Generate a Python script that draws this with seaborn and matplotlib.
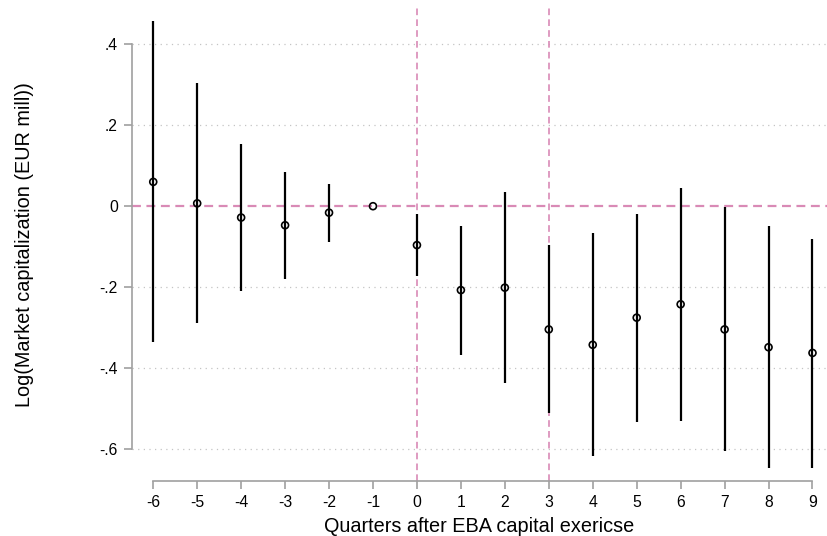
import numpy as np
import pandas as pd
import seaborn as sns
import matplotlib.pyplot as plt

# event-study coefficients
quarters = [-6, -5, -4, -3, -2, -1, 0, 1, 2, 3, 4, 5, 6, 7, 8, 9]
coef = [0.060, 0.007, -0.028, -0.047, -0.016, 0.0, -0.096, -0.207,
        -0.201, -0.304, -0.342, -0.275, -0.242, -0.304, -0.348, -0.362]
ci_low = [-0.335, -0.289, -0.209, -0.179, -0.089, 0.0, -0.172, -0.367,
          -0.437, -0.510, -0.617, -0.532, -0.529, -0.605, -0.647, -0.645]
ci_high = [0.457, 0.303, 0.153, 0.085, 0.055, 0.0, -0.020, -0.048,
           0.034, -0.096, -0.066, -0.020, 0.045, -0.001, -0.049, -0.080]

ytick_vals = [-0.6, -0.4, -0.2, 0, 0.2, 0.4]
ytick_labels = ['-.6', '-.4', '-.2', '0', '.2', '.4']
event_lines = [0, 3]

df = pd.DataFrame({'q': quarters, 'b': coef, 'lo': ci_low, 'hi': ci_high})

sns.set_theme(style="white")
plt.rcParams['font.family'] = ['Liberation Sans', 'DejaVu Sans']
plt.rcParams['text.color'] = 'black'
plt.rcParams['axes.labelcolor'] = 'black'

W, H = 827, 536
fig = plt.figure(figsize=(W / 100, H / 100), dpi=100)
ax = fig.add_axes([131.7 / W, (H - 481) / H, (W - 131.7) / W, (481 - 8) / H])

pink = '#d98ab6'
grey = '#a0a0a0'

# dotted gridlines
for v in ytick_vals:
    if v != 0:
        ax.axhline(v, color='#c4c4c4', lw=0.9, ls=(0, (1, 3.5)), zorder=0)

ax.axhline(0, color=pink, lw=1.6, ls=(0, (4, 2.5)), zorder=1)
for v in event_lines:
    ax.axvline(v, color=pink, lw=1.2, ls=(0, (4, 2.5)), zorder=1)

# confidence intervals
ax.vlines(df['q'], df['lo'], df['hi'], color='black', lw=1.6, zorder=2)

sns.scatterplot(data=df, x='q', y='b', ax=ax, marker='o', s=25,
                facecolor='none', edgecolor='black', linewidth=1.2, zorder=3)

ax.set_xlim(-6.49, 9.33)
ax.set_ylim(-0.678, 0.489)
ax.set_xticks(quarters)
ax.set_xticklabels([str(q) for q in quarters])
ax.set_yticks(ytick_vals)
ax.set_yticklabels(ytick_labels)

for s in ['top', 'right']:
    ax.spines[s].set_visible(False)
for s in ['left', 'bottom']:
    ax.spines[s].set_color(grey)
    ax.spines[s].set_linewidth(1.2)
ax.spines['left'].set_bounds(-0.6, 0.4)
ax.spines['bottom'].set_bounds(-6, 9)

ax.tick_params(axis='both', length=6, width=1.2, color=grey,
               labelsize=11.3, labelcolor='black', pad=4,
               bottom=True, left=True)

ax.set_xlabel('Quarters after EBA capital exericse', fontsize=14.3, labelpad=5)
ax.set_ylabel('Log(Market capitalization (EUR mill))', fontsize=14.3)
ax.yaxis.set_label_coords(-0.141, 0.5)

fig.savefig('out.png', dpi=100)
